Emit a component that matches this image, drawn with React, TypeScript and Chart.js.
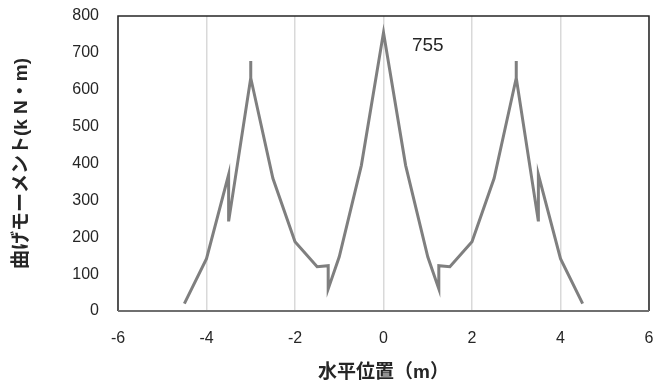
import React, { useEffect, useRef } from "react";
import { Chart, registerables } from "chart.js";

Chart.register(...registerables);

const xValues = [-4.5, -4, -3.5, -3.5, -3, -3, -3, -2.5, -2, -1.5, -1.25, -1.25, -1, -0.5, 0, 0.5, 1, 1.25, 1.25, 1.5, 2, 2.5, 3, 3, 3, 3.5, 3.5, 4, 4.5];
const yValues = [20, 142, 370, 243, 632, 678, 632, 360, 188, 120, 123, 60, 147, 395, 755, 395, 147, 60, 123, 120, 188, 360, 632, 678, 632, 243, 370, 142, 20];
const xTicks = [-6, -4, -2, 0, 2, 4, 6];
const yTicks = [0, 100, 200, 300, 400, 500, 600, 700, 800];
const annotationText = "755";
const xTitle = "水平位置（m）";
const yTitle = "曲げモーメント(k N・m)";

const FONT = '"Liberation Sans", "Noto Sans CJK JP", sans-serif';

export default function App() {
  const ref = useRef<HTMLCanvasElement | null>(null);
  useEffect(() => {
    document.body.style.margin = "0";
    const canvas = ref.current!;
    const borderPlugin = {
      id: "borderPlugin",
      afterDatasetsDraw(chart: any) {
        const { ctx, chartArea } = chart;
        const { left, right, top, bottom } = chartArea;
        ctx.save();
        ctx.strokeStyle = "#262626";
        ctx.lineWidth = 1.5;
        ctx.beginPath();
        ctx.moveTo(left, bottom);
        ctx.lineTo(left, top);
        ctx.lineTo(right, top);
        ctx.lineTo(right, bottom);
        ctx.stroke();
        ctx.strokeStyle = "#6f6f6f";
        ctx.lineWidth = 2;
        ctx.beginPath();
        ctx.moveTo(left, bottom);
        ctx.lineTo(right, bottom);
        ctx.stroke();
        const xs = chart.scales.x;
        const ys = chart.scales.y;
        ctx.fillStyle = "#262626";
        ctx.font = `19px ${FONT}`;
        ctx.textAlign = "center";
        ctx.textBaseline = "middle";
        ctx.fillText(annotationText, xs.getPixelForValue(1), ys.getPixelForValue(720));
        ctx.restore();
      },
    };
    const chart = new Chart(canvas, {
      type: "scatter",
      data: {
        datasets: [
          {
            data: xValues.map((x, i) => ({ x, y: yValues[i] })),
            showLine: true,
            borderColor: "#7f7f7f",
            borderWidth: 3,
            pointRadius: 0,
            tension: 0,
          },
        ],
      },
      options: {
        responsive: false,
        animation: false,
        layout: { padding: { left: 0, top: 16, right: 8, bottom: 0 } },
        plugins: { legend: { display: false }, tooltip: { enabled: false } },
        scales: {
          x: {
            type: "linear",
            min: -6,
            max: 6,
            afterBuildTicks: (s: any) => { s.ticks = xTicks.map((v) => ({ value: v })); },
            afterFit: (s: any) => { s.height = 76; s.paddingLeft = 0; s.paddingRight = 0; },
            grid: { display: true, color: "#d9d9d9", lineWidth: 1.5, drawTicks: false },
            border: { display: false },
            ticks: { color: "#262626", font: { size: 16, family: FONT }, padding: 18, maxRotation: 0 },
            title: { display: true, text: xTitle, color: "#262626", font: { size: 19, weight: "bold", family: FONT }, padding: { top: 0, bottom: 3 } },
          },
          y: {
            type: "linear",
            min: 0,
            max: 800,
            afterBuildTicks: (s: any) => { s.ticks = yTicks.map((v) => ({ value: v })); },
            afterFit: (s: any) => { s.width = 118; s.paddingTop = 0; s.paddingBottom = 0; },
            grid: { display: false, drawTicks: false },
            border: { display: false },
            ticks: { color: "#262626", font: { size: 16, family: FONT }, padding: 19 },
            title: { display: true, text: yTitle, color: "#262626", font: { size: 19, weight: "bold", family: FONT }, padding: { top: 10, bottom: 0 } },
          },
        },
      },
      plugins: [borderPlugin],
    } as any);
    return () => chart.destroy();
  }, []);
  return (
    <div style={{ width: 657, height: 387, background: "#fff" }}>
      <canvas ref={ref} width={657} height={387} style={{ display: "block" }} />
    </div>
  );
}
